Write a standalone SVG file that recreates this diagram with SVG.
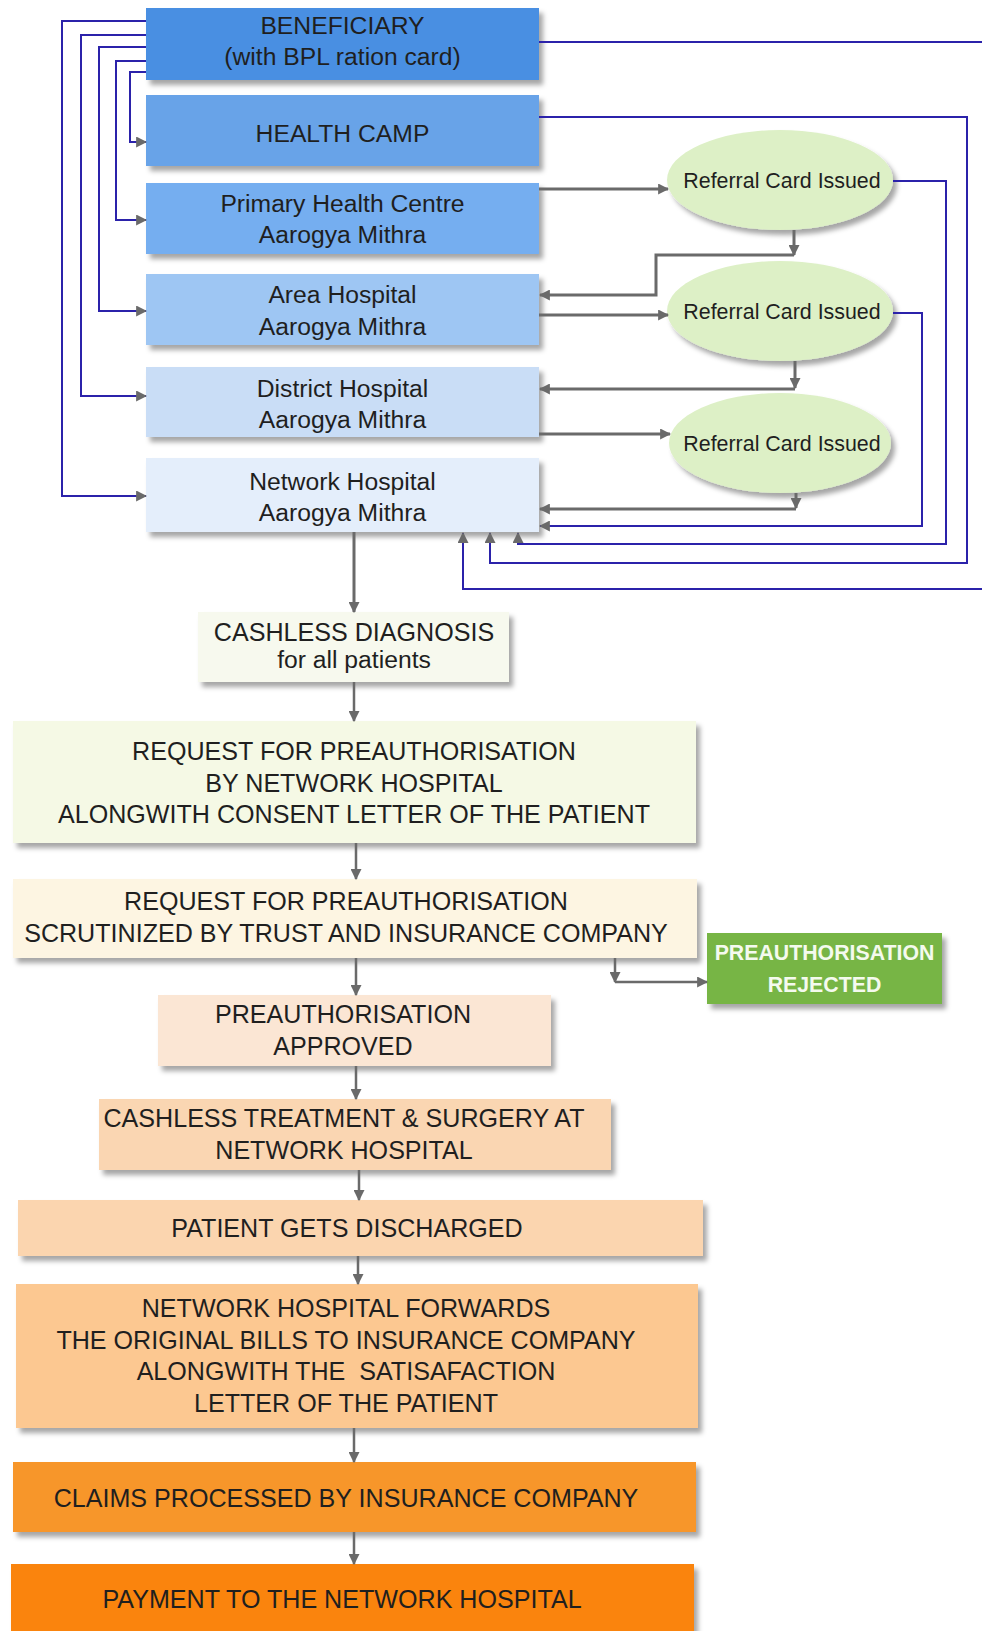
<svg xmlns="http://www.w3.org/2000/svg" width="982" height="1631" viewBox="0 0 982 1631">
<defs>
<filter id="sh" x="-5%" y="-15%" width="115%" height="150%">
<feDropShadow dx="4" dy="5" stdDeviation="2.5" flood-color="#000" flood-opacity="0.35"/>
</filter>
<marker id="ah" viewBox="0 0 10 10" refX="9" refY="5" markerWidth="11" markerHeight="11" markerUnits="userSpaceOnUse" orient="auto"><path d="M0,0 L10,5 L0,10 z" fill="#6a6a6a"/></marker>
</defs>
<style>
.t{font-family:"Liberation Sans",Arial,sans-serif;font-size:24.7px;fill:#1f1f1f;text-anchor:middle}
.l{font-size:25.1px}
.r{font-size:21.4px}
.w{font-weight:bold;fill:#f4faee;font-size:21.3px}
.b{fill:none;stroke:#2b22aa;stroke-width:2}
.g{fill:none;stroke:#6a6a6a;stroke-width:3}
.g2{fill:none;stroke:#6a6a6a;stroke-width:2.5}
.box{filter:url(#sh)}
</style>
<rect width="982" height="1631" fill="#fff"/>

<g id="n_beneficiary"><rect class="box" x="146" y="8" width="393" height="72" fill="#4a8fe2"/><text class="t" x="342.5" y="34">BENEFICIARY</text><text class="t" x="342.5" y="65">(with BPL ration card)</text></g>
<g id="n_healthcamp"><rect class="box" x="146" y="95" width="393" height="71" fill="#68a3e8"/><text class="t" x="342.5" y="142">HEALTH CAMP</text></g>
<g id="n_phc"><rect class="box" x="146" y="183" width="393" height="71" fill="#74aef0"/><text class="t" x="342.5" y="212">Primary Health Centre</text><text class="t" x="342.5" y="243">Aarogya Mithra</text></g>
<g id="n_area"><rect class="box" x="146" y="274" width="393" height="71" fill="#9ec6f3"/><text class="t" x="342.5" y="303">Area Hospital</text><text class="t" x="342.5" y="335">Aarogya Mithra</text></g>
<g id="n_district"><rect class="box" x="146" y="367" width="393" height="70" fill="#c9ddf6"/><text class="t" x="342.5" y="397">District Hospital</text><text class="t" x="342.5" y="428">Aarogya Mithra</text></g>
<g id="n_network"><rect class="box" x="146" y="458" width="393" height="74" fill="#e4eefb"/><text class="t" x="342.5" y="490">Network Hospital</text><text class="t" x="342.5" y="521">Aarogya Mithra</text></g>

<g id="n_ref1"><ellipse class="box" cx="780" cy="180" rx="113" ry="50" fill="#ddf0c6"/><text class="t r" x="782" y="188">Referral Card Issued</text></g>
<g id="n_ref2"><ellipse class="box" cx="780" cy="311" rx="113" ry="50" fill="#ddf0c6"/><text class="t r" x="782" y="319">Referral Card Issued</text></g>
<g id="n_ref3"><ellipse class="box" cx="780" cy="443" rx="111" ry="50" fill="#ddf0c6"/><text class="t r" x="782" y="451">Referral Card Issued</text></g>

<g id="n_diag"><rect class="box" x="198" y="612" width="311" height="70" fill="#f7f9ee"/><text class="t l" x="354" y="641">CASHLESS DIAGNOSIS</text><text class="t" x="354" y="668">for all patients</text></g>
<g id="n_req1"><rect class="box" x="13" y="721" width="683" height="122" fill="#f5f9e5"/><text class="t l" x="354" y="760">REQUEST FOR PREAUTHORISATION</text><text class="t l" x="354" y="792">BY NETWORK HOSPITAL</text><text class="t l" x="354" y="823">ALONGWITH CONSENT LETTER OF THE PATIENT</text></g>
<g id="n_req2"><rect class="box" x="13" y="879" width="684" height="79" fill="#fdf5e2"/><text class="t l" x="346" y="910">REQUEST FOR PREAUTHORISATION</text><text class="t l" x="346" y="942">SCRUTINIZED BY TRUST AND INSURANCE COMPANY</text></g>
<g id="n_rejected"><rect class="box" x="707" y="933" width="235" height="71" fill="#77b545"/><text class="t w" x="824.5" y="960">PREAUTHORISATION</text><text class="t w" x="824.5" y="992">REJECTED</text></g>
<g id="n_approved"><rect class="box" x="158" y="995" width="393" height="71" fill="#fbe6d4"/><text class="t l" x="343" y="1023">PREAUTHORISATION</text><text class="t l" x="343" y="1055">APPROVED</text></g>
<g id="n_treatment"><rect class="box" x="99" y="1099" width="512" height="71" fill="#fad6b2"/><text class="t l" x="344" y="1127">CASHLESS TREATMENT &amp; SURGERY AT</text><text class="t l" x="344" y="1159">NETWORK HOSPITAL</text></g>
<g id="n_discharged"><rect class="box" x="18" y="1200" width="685" height="56" fill="#fbd5af"/><text class="t l" x="347" y="1237">PATIENT GETS DISCHARGED</text></g>
<g id="n_forwards"><rect class="box" x="16" y="1284" width="682" height="144" fill="#fcc891"/><text class="t l" x="346" y="1317">NETWORK HOSPITAL FORWARDS</text><text class="t l" x="346" y="1349">THE ORIGINAL BILLS TO INSURANCE COMPANY</text><text class="t l" x="346" y="1380" style="white-space:pre">ALONGWITH THE  SATISAFACTION</text><text class="t l" x="346" y="1412">LETTER OF THE PATIENT</text></g>
<g id="n_claims"><rect class="box" x="13" y="1462" width="683" height="70" fill="#f7962a"/><text class="t l" x="346" y="1507">CLAIMS PROCESSED BY INSURANCE COMPANY</text></g>
<g id="n_payment"><rect class="box" x="11" y="1564" width="683" height="80" fill="#fa840a"/><text class="t l" x="342" y="1608">PAYMENT TO THE NETWORK HOSPITAL</text></g>

<g id="connectors">
<path class="b" d="M146,21 H62 V496 H146" marker-end="url(#ah)"/>
<path class="b" d="M146,35 H81 V396 H146" marker-end="url(#ah)"/>
<path class="b" d="M146,47 H99 V311 H146" marker-end="url(#ah)"/>
<path class="b" d="M146,61 H116 V220 H146" marker-end="url(#ah)"/>
<path class="b" d="M146,72 H130 V142 H146" marker-end="url(#ah)"/>
<path class="b" d="M539,42 H982"/>
<path class="b" d="M982,589 H463 V533" marker-end="url(#ah)"/>
<path class="b" d="M539,117 H967 V563 H490 V533" marker-end="url(#ah)"/>
<path class="b" d="M893,181 H946 V544 H518 V533" marker-end="url(#ah)"/>
<path class="b" d="M893,313 H922 V526 H540" marker-end="url(#ah)"/>
<path class="g" d="M539,189 H668" marker-end="url(#ah)"/>
<path class="g" d="M794,230 V255" marker-end="url(#ah)"/>
<path class="g" d="M794,255 H656 V295 H540" marker-end="url(#ah)"/>
<path class="g" d="M539,315 H668" marker-end="url(#ah)"/>
<path class="g" d="M795,361 V388" marker-end="url(#ah)"/>
<path class="g" d="M795,389 H540" marker-end="url(#ah)"/>
<path class="g" d="M539,434 H670" marker-end="url(#ah)"/>
<path class="g" d="M796,493 V508" marker-end="url(#ah)"/>
<path class="g" d="M796,509 H540" marker-end="url(#ah)"/>
<path class="g" d="M354,532 V612" marker-end="url(#ah)"/>
<path class="g2" d="M354,682 V721" marker-end="url(#ah)"/>
<path class="g2" d="M356,843 V879" marker-end="url(#ah)"/>
<path class="g2" d="M615,958 V982" marker-end="url(#ah)"/>
<path class="g2" d="M615,982 H707" marker-end="url(#ah)"/>
<path class="g2" d="M356,958 V995" marker-end="url(#ah)"/>
<path class="g2" d="M356,1066 V1099" marker-end="url(#ah)"/>
<path class="g2" d="M359,1170 V1200" marker-end="url(#ah)"/>
<path class="g2" d="M358,1256 V1284" marker-end="url(#ah)"/>
<path class="g2" d="M354,1428 V1462" marker-end="url(#ah)"/>
<path class="g2" d="M354,1532 V1564" marker-end="url(#ah)"/>
</g>
</svg>
